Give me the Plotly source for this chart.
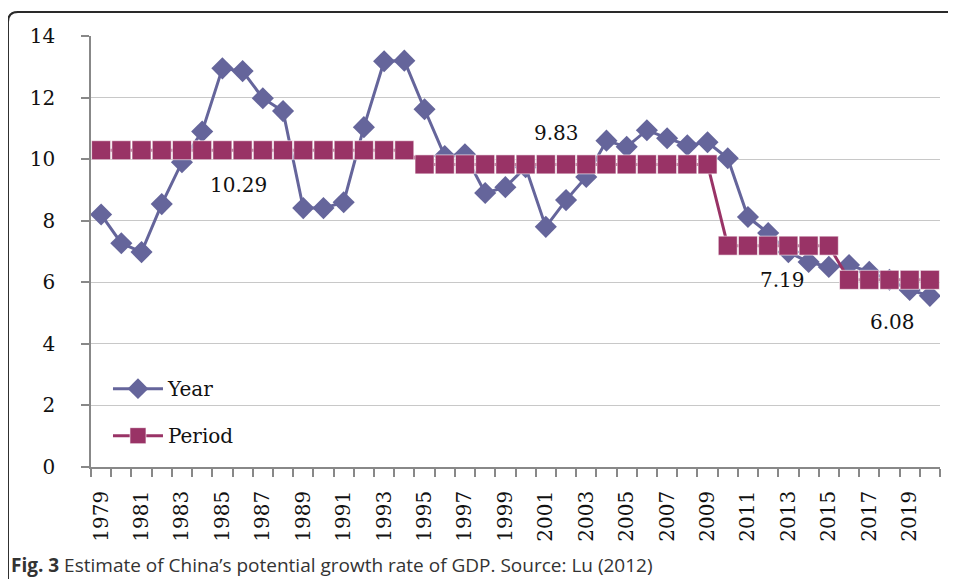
import plotly.graph_objects as go

years = list(range(1979, 2021))
year_rate = [8.20, 7.27, 6.98, 8.54, 9.90, 10.90, 12.95, 12.86, 11.98, 11.56,
             8.41, 8.41, 8.60, 11.04, 13.18, 13.20, 11.62, 10.10, 10.16, 8.90,
             9.09, 9.74, 7.80, 8.67, 9.42, 10.60, 10.40, 10.94, 10.68, 10.45,
             10.55, 10.03, 8.12, 7.60, 6.98, 6.66, 6.50, 6.56, 6.34, 6.08,
             5.75, 5.56]
period_rate = [10.29] * 16 + [9.83] * 15 + [7.19] * 6 + [6.08] * 5
period_labels = ["10.29", "9.83", "7.19", "6.08"]
label_x = [1985.8, 2001.55, 2012.7, 2018.15]
label_y = [9.16, 10.84, 6.07, 4.71]
x_tick_vals = list(range(1979, 2020, 2))
x_tick_text = [str(v) for v in x_tick_vals]
y_ticks = [0, 2, 4, 6, 8, 10, 12, 14]

SERIF = "DejaVu Serif"
YEAR_COLOR = "#65659b"
PERIOD_COLOR = "#993366"

fig = go.Figure()
fig.add_trace(go.Scatter(
    x=years, y=year_rate, name="Year", mode="lines+markers",
    line=dict(color=YEAR_COLOR, width=3),
    marker=dict(symbol="diamond", size=17, color=YEAR_COLOR),
    legendgroup="a",
))
fig.add_trace(go.Scatter(
    x=years, y=period_rate, name="Period", mode="lines+markers",
    line=dict(color=PERIOD_COLOR, width=3),
    marker=dict(symbol="square", size=19, color=PERIOD_COLOR,
                line=dict(color="rgba(255,255,255,0.6)", width=1)),
    legendgroup="b",
))

for t, xv, yv in zip(period_labels, label_x, label_y):
    fig.add_annotation(x=xv, y=yv, text=t, showarrow=False,
                       font=dict(family=SERIF, size=20, color="#111"))

fig.add_annotation(
    xref="paper", yref="paper", x=-0.0965, y=-0.2274, xanchor="left", yanchor="middle",
    text="<b>Fig. 3</b> Estimate of China’s potential growth rate of GDP. Source: Lu (2012)",
    showarrow=False, font=dict(family="Open Sans", size=19, color="#333"))

# frame with rounded top-left corner
L, T, R, B = -0.0978, 1.0557, 1.03, -0.29
rx, ry = 0.0118, 0.0232
fig.add_shape(type="path", xref="paper", yref="paper",
              path=f"M {R},{T} L {L+rx},{T} Q {L},{T} {L},{T-ry} L {L},{B}",
              line=dict(color="#2a2a2a", width=2))

fig.update_layout(
    width=948, height=571,
    margin=dict(l=83, r=16, t=28, b=112),
    plot_bgcolor="white", paper_bgcolor="white",
    showlegend=True,
    legend=dict(x=0.02, y=0.227, xanchor="left", yanchor="top",
                font=dict(family=SERIF, size=20, color="#111"),
                bgcolor="rgba(0,0,0,0)", tracegroupgap=18, itemwidth=50),
    xaxis=dict(
        range=[1978.5, 2020.5], tickmode="array", tickvals=x_tick_vals,
        ticktext=x_tick_text, tickangle=-90, ticks="", showgrid=False,
        showline=True, linecolor="#888", linewidth=1.5, zeroline=False,
        tickfont=dict(family=SERIF, size=20, color="#111"),
        ticklabelstandoff=14,
        minor=dict(tick0=1978.5, dtick=1, ticks="outside", ticklen=8,
                   tickcolor="#888", tickwidth=1.5, showgrid=False),
    ),
    yaxis=dict(
        range=[0, 14], tickvals=y_ticks, ticks="outside", ticklen=8,
        tickcolor="#888", tickwidth=1.5, showline=True, linecolor="#888",
        linewidth=1.5, showgrid=True, gridcolor="#c8c8c8", gridwidth=1,
        zeroline=False, tickfont=dict(family=SERIF, size=20, color="#111"),
        ticklabelstandoff=22,
    ),
)

fig.write_html("out.html")
